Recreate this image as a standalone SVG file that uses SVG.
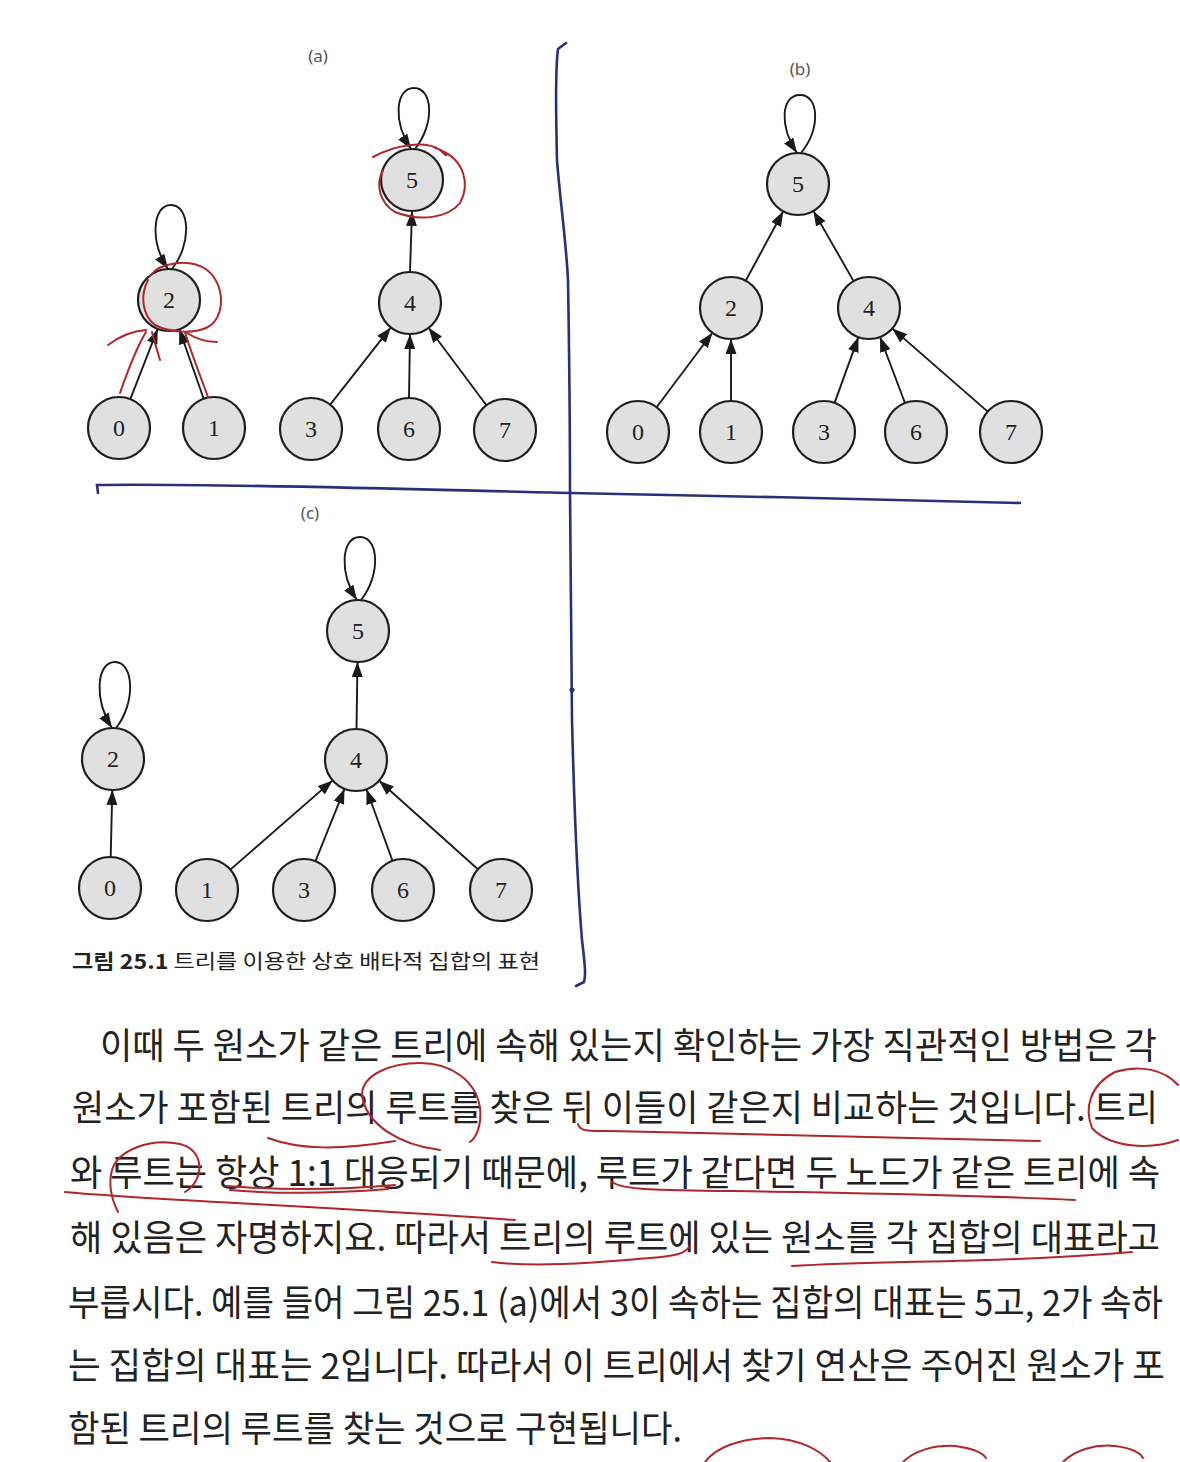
<svg xmlns="http://www.w3.org/2000/svg" width="1180" height="1462" viewBox="0 0 1180 1462">
<defs>
<marker id="ah" viewBox="0 0 15 11" refX="15" refY="5.5" markerWidth="15" markerHeight="11" markerUnits="userSpaceOnUse" orient="auto"><path d="M0,0 L15,5.5 L0,11 z" fill="#1a1a1a"/></marker>
</defs>
<style>
.nd circle{fill:#e0e0e0;stroke:#1e1e1e;stroke-width:2.2}
.nd text{font-family:"Liberation Serif",serif;font-size:24px;fill:#222;text-anchor:middle}
.e{stroke:#1a1a1a;stroke-width:1.9;fill:none;marker-end:url(#ah)}
.lbl{font-family:"Noto Sans","Liberation Sans",sans-serif;font-size:17px;fill:#555;text-anchor:middle}
.cap{font-family:"Noto Sans CJK KR","Noto Sans",sans-serif;font-size:20px;fill:#222}
.body{font-family:"Noto Sans CJK KR","Noto Sans",sans-serif;font-size:36px;fill:#222}
.red{fill:none;stroke:#b0262c;stroke-width:2;stroke-linecap:round}
.blue{fill:none;stroke:#2b2f78;stroke-width:2.6;stroke-linecap:round}
</style>
<rect width="1180" height="1462" fill="#ffffff"/>

<text class="lbl" x="318" y="62">(a)</text>
<text class="lbl" x="800" y="75">(b)</text>
<text class="lbl" x="310" y="519">(c)</text>

<g id="connectors">
<!-- (a) -->
<path class="e" d="M172,269 C192,244 190,205 171,205 C152,205 150,242 168,269"/>
<path class="e" d="M415,149 C435,124 433,88 414,88 C395,88 393,122 411,149"/>
<line class="e" x1="130.3" y1="399.1" x2="157.7" y2="328.9"/>
<line class="e" x1="203.7" y1="398.8" x2="179.3" y2="329.2"/>
<line class="e" x1="330.2" y1="404.6" x2="390.8" y2="327.4"/>
<line class="e" x1="409" y1="398" x2="410" y2="334"/>
<line class="e" x1="486.4" y1="405.2" x2="428.6" y2="327.8"/>
<line class="e" x1="410" y1="272" x2="412" y2="211"/>
<!-- (b) -->
<path class="e" d="M801,153 C821,128 819,95 800,95 C781,95 779,126 797,153"/>
<line class="e" x1="656.6" y1="407.2" x2="712.4" y2="332.8"/>
<line class="e" x1="731" y1="401" x2="731" y2="339"/>
<line class="e" x1="834.6" y1="402.9" x2="858.4" y2="337.1"/>
<line class="e" x1="905" y1="403" x2="880" y2="337"/>
<line class="e" x1="987.7" y1="411.6" x2="892.3" y2="328.4"/>
<line class="e" x1="745.7" y1="280.7" x2="783.3" y2="211.3"/>
<line class="e" x1="853.6" y1="281.1" x2="813.4" y2="210.9"/>
<!-- (c) -->
<path class="e" d="M116,728 C136,703 134,662 115,662 C96,662 94,700 112,728"/>
<path class="e" d="M361,600 C381,575 379,537 360,537 C341,537 339,573 357,600"/>
<line class="e" x1="110.7" y1="857" x2="112.3" y2="790"/>
<line class="e" x1="230.4" y1="869.6" x2="332.6" y2="780.4"/>
<line class="e" x1="315.5" y1="861.2" x2="344.5" y2="788.8"/>
<line class="e" x1="392.5" y1="860.8" x2="366.5" y2="789.2"/>
<line class="e" x1="477.9" y1="869.3" x2="379.1" y2="780.7"/>
<line class="e" x1="356.5" y1="729" x2="357.5" y2="662"/>
</g>

<!-- panel (a) nodes -->
<g id="a-n2" class="nd"><circle cx="169" cy="300" r="31"/><text x="169" y="308">2</text></g>
<g id="a-n5" class="nd"><circle cx="412" cy="180" r="31"/><text x="412" y="188">5</text></g>
<g id="a-n4" class="nd"><circle cx="410" cy="303" r="31"/><text x="410" y="311">4</text></g>
<g id="a-n0" class="nd"><circle cx="119" cy="428" r="31"/><text x="119" y="436">0</text></g>
<g id="a-n1" class="nd"><circle cx="214" cy="428" r="31"/><text x="214" y="436">1</text></g>
<g id="a-n3" class="nd"><circle cx="311" cy="429" r="31"/><text x="311" y="437">3</text></g>
<g id="a-n6" class="nd"><circle cx="409" cy="429" r="31"/><text x="409" y="437">6</text></g>
<g id="a-n7" class="nd"><circle cx="505" cy="430" r="31"/><text x="505" y="438">7</text></g>

<!-- panel (b) nodes -->
<g id="b-n5" class="nd"><circle cx="798" cy="184" r="31"/><text x="798" y="192">5</text></g>
<g id="b-n2" class="nd"><circle cx="731" cy="308" r="31"/><text x="731" y="316">2</text></g>
<g id="b-n4" class="nd"><circle cx="869" cy="308" r="31"/><text x="869" y="316">4</text></g>
<g id="b-n0" class="nd"><circle cx="638" cy="432" r="31"/><text x="638" y="440">0</text></g>
<g id="b-n1" class="nd"><circle cx="731" cy="432" r="31"/><text x="731" y="440">1</text></g>
<g id="b-n3" class="nd"><circle cx="824" cy="432" r="31"/><text x="824" y="440">3</text></g>
<g id="b-n6" class="nd"><circle cx="916" cy="432" r="31"/><text x="916" y="440">6</text></g>
<g id="b-n7" class="nd"><circle cx="1011" cy="432" r="31"/><text x="1011" y="440">7</text></g>

<!-- panel (c) nodes -->
<g id="c-n2" class="nd"><circle cx="113" cy="759" r="31"/><text x="113" y="767">2</text></g>
<g id="c-n5" class="nd"><circle cx="358" cy="631" r="31"/><text x="358" y="639">5</text></g>
<g id="c-n4" class="nd"><circle cx="356" cy="760" r="31"/><text x="356" y="768">4</text></g>
<g id="c-n0" class="nd"><circle cx="110" cy="888" r="31"/><text x="110" y="896">0</text></g>
<g id="c-n1" class="nd"><circle cx="207" cy="890" r="31"/><text x="207" y="898">1</text></g>
<g id="c-n3" class="nd"><circle cx="304" cy="890" r="31"/><text x="304" y="898">3</text></g>
<g id="c-n6" class="nd"><circle cx="403" cy="890" r="31"/><text x="403" y="898">6</text></g>
<g id="c-n7" class="nd"><circle cx="501" cy="890" r="31"/><text x="501" y="898">7</text></g>

<text class="cap" x="72" y="969" textLength="468" lengthAdjust="spacingAndGlyphs"><tspan font-weight="bold">그림 25.1</tspan> 트리를 이용한 상호 배타적 집합의 표현</text>

<g id="body-text" class="body">
<text transform="translate(100,1059) scale(0.85,1)" x="0" y="0" textLength="1243.5" lengthAdjust="spacingAndGlyphs">이때 두 원소가 같은 트리에 속해 있는지 확인하는 가장 직관적인 방법은 각</text>
<text transform="translate(72,1121) scale(0.85,1)" x="0" y="0" textLength="1277.6" lengthAdjust="spacingAndGlyphs">원소가 포함된 트리의 루트를 찾은 뒤 이들이 같은지 비교하는 것입니다. 트리</text>
<text transform="translate(70,1186) scale(0.85,1)" x="0" y="0" textLength="1282.4" lengthAdjust="spacingAndGlyphs">와 루트는 항상 1:1 대응되기 때문에, 루트가 같다면 두 노드가 같은 트리에 속</text>
<text transform="translate(70,1251) scale(0.85,1)" x="0" y="0" textLength="1282.4" lengthAdjust="spacingAndGlyphs">해 있음은 자명하지요. 따라서 트리의 루트에 있는 원소를 각 집합의 대표라고</text>
<text transform="translate(68,1316) scale(0.85,1)" x="0" y="0" textLength="1288.2" lengthAdjust="spacingAndGlyphs">부릅시다. 예를 들어 그림 25.1 (a)에서 3이 속하는 집합의 대표는 5고, 2가 속하</text>
<text transform="translate(68,1379) scale(0.85,1)" x="0" y="0" textLength="1290.6" lengthAdjust="spacingAndGlyphs">는 집합의 대표는 2입니다. 따라서 이 트리에서 찾기 연산은 주어진 원소가 포</text>
<text transform="translate(68,1442) scale(0.85,1)" x="0" y="0" textLength="722.4" lengthAdjust="spacingAndGlyphs">함된 트리의 루트를 찾는 것으로 구현됩니다.</text>
</g>

<!-- blue pen lines -->
<path class="blue" d="M566,43 L558,49 C555,70 556,120 557,160 C560,200 566,240 568,280 C569,340 570,420 570,493 C571,560 571,640 572,720 C574,800 577,880 582,940 C585,965 586,975 584,982 L576,986"/>
<path class="blue" d="M98,493 L97,485 C200,483 400,489 570,493 C700,496 900,499 1020,503"/>
<circle cx="572" cy="690" r="2.5" fill="#2b2f78"/>

<!-- red pen marks, figure -->
<path class="red" d="M150,276 C160,262 190,258 207,270 C226,285 225,318 208,327 C195,334 170,333 155,325 C142,315 140,295 148,280"/>
<path class="red" d="M108,345 C120,336 132,331 146,330"/>
<path class="red" d="M120,393 C128,370 138,345 146,332"/>
<path class="red" d="M160,360 C157,350 154,340 152,332"/>
<path class="red" d="M208,397 C200,375 190,350 185,332"/>
<path class="red" d="M187,333 C198,340 208,342 217,342"/>
<path class="red" d="M373,157 C395,145 425,140 440,150 C452,162 445,150 435,148 M440,150 C465,160 470,185 460,203 C448,218 420,222 395,212 C380,203 375,185 383,170"/>

<!-- red pen marks, text -->
<path class="red" d="M440,1150 C400,1145 366,1125 362,1095 C362,1075 390,1063 420,1063 C450,1063 476,1080 480,1108 C482,1125 476,1138 470,1142"/>
<path class="red" d="M268,1138 C300,1150 340,1150 395,1141"/>
<path class="red" d="M578,1124 C580,1132 590,1131 610,1131 C750,1134 900,1138 1040,1141"/>
<path class="red" d="M1092,1128 C1084,1108 1090,1085 1115,1072 C1140,1064 1165,1070 1178,1085 M1092,1128 C1110,1148 1150,1150 1178,1140"/>
<path class="red" d="M185,1192 C205,1180 205,1150 180,1144 C150,1138 118,1150 112,1170 C108,1185 112,1200 118,1212"/>
<path class="red" d="M226,1186 C290,1191 340,1190 395,1185 M230,1190 C290,1195 340,1193 388,1189"/>
<path class="red" d="M65,1192 C150,1200 300,1205 515,1220"/>
<path class="red" d="M612,1182 C625,1192 680,1190 800,1192 C900,1194 1000,1196 1075,1200"/>
<path class="red" d="M492,1262 C540,1268 600,1262 650,1258 C675,1256 685,1254 690,1246"/>
<path class="red" d="M792,1266 C860,1262 950,1262 1040,1258 C1080,1256 1110,1254 1132,1252"/>
<path class="red" d="M705,1462 C715,1448 740,1438 770,1438 C800,1439 820,1450 830,1462"/>
<path class="red" d="M903,1462 C915,1450 935,1445 955,1446 C970,1448 982,1452 986,1458"/>
<path class="red" d="M1063,1462 C1075,1450 1095,1444 1115,1446 C1130,1448 1140,1452 1143,1458"/>
</svg>
